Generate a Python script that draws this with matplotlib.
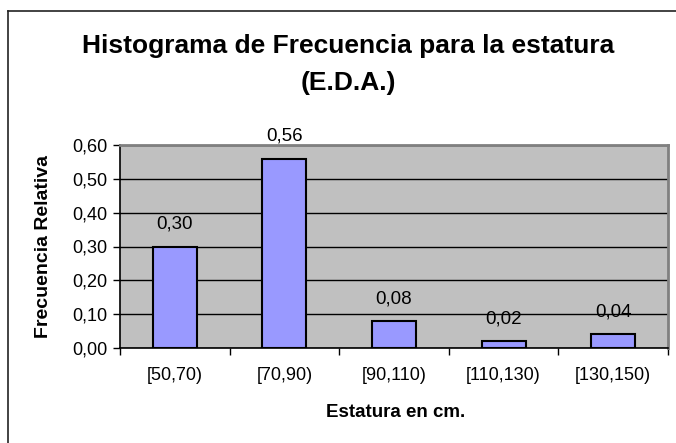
import matplotlib
matplotlib.use("Agg")
import matplotlib.pyplot as plt
from matplotlib.lines import Line2D
from matplotlib.ticker import MultipleLocator, FixedLocator

categories = ["[50,70)", "[70,90)", "[90,110)", "[110,130)", "[130,150)"]
values = [0.30, 0.56, 0.08, 0.02, 0.04]
value_labels = ["0,30", "0,56", "0,08", "0,02", "0,04"]
yticks = [0.0, 0.1, 0.2, 0.3, 0.4, 0.5, 0.6]
ytick_labels = ["0,00", "0,10", "0,20", "0,30", "0,40", "0,50", "0,60"]

plt.rcParams['font.family'] = ['Liberation Sans', 'DejaVu Sans']

W, H = 676, 443
fig = plt.figure(figsize=(W / 100, H / 100), dpi=100)
fig.patch.set_facecolor('white')

# outer chart frame (cut off at right/bottom)
fig.add_artist(Line2D([8 / W, 8 / W], [0, 1 - 11 / H], color='#222222', lw=1.2))
fig.add_artist(Line2D([8 / W, 1], [1 - 11 / H, 1 - 11 / H], color='#222222', lw=1.2))

left, right, bottom, top = 120 / W, 668 / W, 1 - 348 / H, 1 - 145 / H
ax = fig.add_axes([left, bottom, right - left, top - bottom])
ax.set_facecolor('#C0C0C0')

x = list(range(len(categories)))
ax.bar(x, values, width=0.4, color='#9999FF', edgecolor='black', linewidth=1.5, zorder=3)

ax.set_xlim(-0.5, len(categories) - 0.5)
ax.set_ylim(0, 0.6)
ax.set_yticks(yticks)
ax.set_yticklabels(ytick_labels, fontsize=13)
ax.yaxis.grid(True, color='black', linewidth=1.0, zorder=1)
ax.set_axisbelow(True)

ax.set_xticks(x)
ax.set_xticklabels(categories, fontsize=13)
ax.tick_params(axis='x', which='major', length=0, pad=14)
ax.xaxis.set_minor_locator(FixedLocator([i - 0.5 for i in range(len(categories) + 1)]))
ax.tick_params(axis='x', which='minor', length=5, width=1, color='black', direction='out')
ax.tick_params(axis='y', length=5, width=1, color='black', direction='out', pad=4)

for s in ['left', 'bottom']:
    ax.spines[s].set_color('black')
    ax.spines[s].set_linewidth(1.2)
for s in ['top', 'right']:
    ax.spines[s].set_color('#808080')
    ax.spines[s].set_linewidth(2)

for xi, v, lab in zip(x, values, value_labels):
    ax.annotate(lab, (xi, v), xytext=(0, 16), textcoords='offset points',
                ha='center', va='center', fontsize=13.5, zorder=4)

fig.text(348 / W, 1 - 53 / H, "Histograma de Frecuencia para la estatura",
         ha='center', va='baseline', fontsize=19, fontweight='bold')
fig.text(348 / W, 1 - 90 / H, "(E.D.A.)",
         ha='center', va='baseline', fontsize=19, fontweight='bold')
fig.text(44 / W, 1 - 246 / H, "Frecuencia Relativa", rotation=90,
         ha='center', va='center', fontsize=14, fontweight='bold')
fig.text(396 / W, 1 - 417 / H, "Estatura en cm.",
         ha='center', va='baseline', fontsize=13.5, fontweight='bold')

fig.savefig("out.png", dpi=100)
